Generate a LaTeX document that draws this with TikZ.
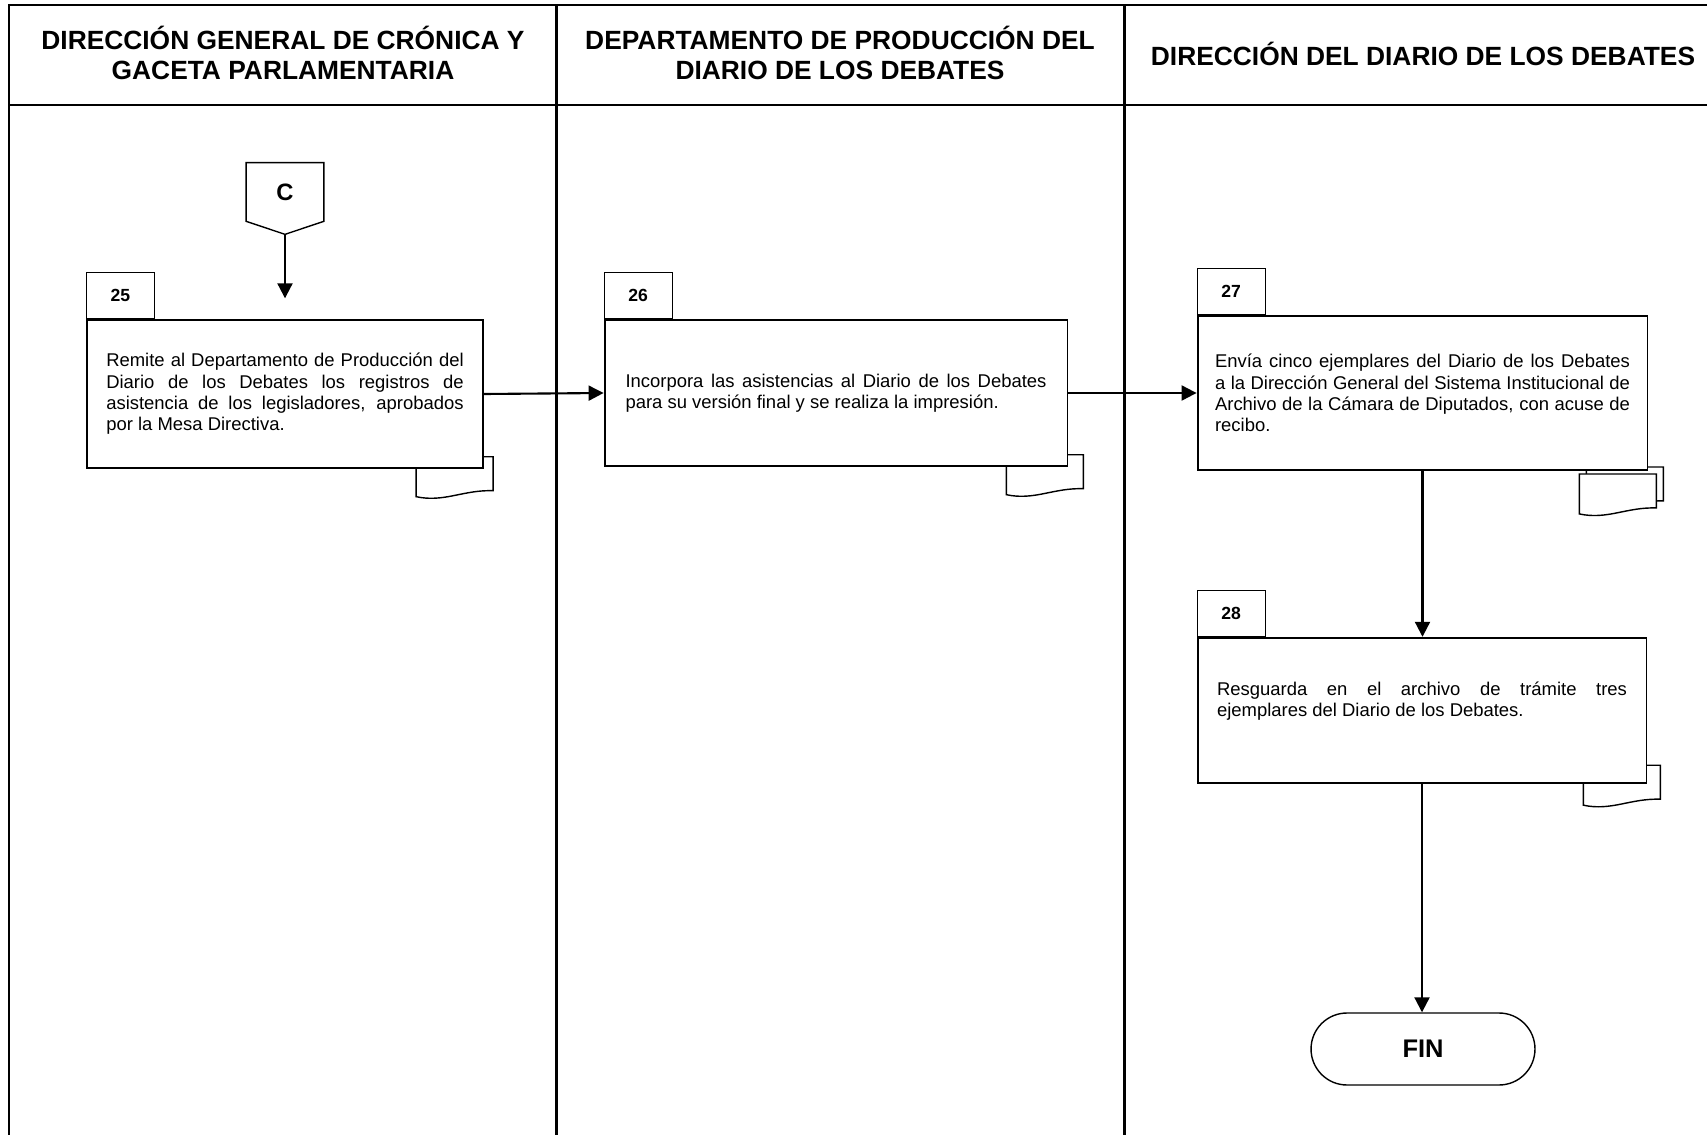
\documentclass[tikz,border=0pt]{standalone}
\usepackage{fontspec}
\setmainfont{Liberation Sans}
\usetikzlibrary{arrows.meta,calc,backgrounds}

\newcommand{\stepfont}{\fontsize{10.5}{12.1}\selectfont\hyphenpenalty=10000\relax\exhyphenpenalty=10000\relax}
\newcommand{\docsym}[1]{%
  \draw[docline] (#1) -- ++(77,0) -- ++(0,34)
    .. controls +(-30,-1) and +(28,6) .. ++(-77,6) -- cycle;}

\begin{document}
\begin{tikzpicture}[
    x=0.02cm, y=-0.02cm,
    lane/.style={line width=1.7pt},
    lanehead/.style={
      align=center,
      font=\bfseries\fontsize{15}{17.4}\selectfont
    },
    stepbox/.style={
      rectangle,
      draw=black,
      line width=1.1pt,
      fill=white,
      align=justify,
      font=\stepfont
    },
    numtab/.style={
      rectangle,
      draw=black,
      line width=0.6pt,
      fill=white,
      minimum width=1.36cm,
      minimum height=0.92cm,
      font=\bfseries\fontsize{10}{12}\selectfont
    },
    docline/.style={draw=black, line width=0.8pt, fill=white},
    arr/.style={line width=1.2pt, -{Triangle[width=0.3cm,length=0.3cm]}},
    term/.style={
      rectangle,
      rounded corners=0.72cm,
      draw=black,
      line width=0.8pt,
      minimum width=4.48cm,
      minimum height=1.44cm,
      font=\bfseries\fontsize{14.5}{17}\selectfont
    }
  ]

    % swimlanes
    \useasboundingbox (0,0) rectangle (1707,1135);
    \draw[lane] (9,1135) -- (9,5) -- (1707,5);
    \draw[lane] (9,105) -- (1707,105);
    \draw[lane] (556,5) -- (556,1135);
    \draw[lane] (1124,5) -- (1124,1135);

    \node [lanehead] (DirGral) at (283,53) {DIRECCIÓN GENERAL DE CRÓNICA Y\\GACETA PARLAMENTARIA};
    \node [lanehead] (DeptProd) at (840,53) {DEPARTAMENTO DE PRODUCCIÓN DEL\\DIARIO DE LOS DEBATES};
    \node [lanehead] (DirDiario) at (1423,54) {DIRECCIÓN DEL DIARIO DE LOS DEBATES};

    % connector C
    \node [inner sep=0pt, minimum width=1.54cm, minimum height=1.16cm,
      font=\bfseries\fontsize{13.5}{16}\selectfont] (Conn) at (285,192) {C};
    \draw[line width=0.8pt] (Conn.north west) -- (Conn.north east) -- (Conn.south east)
      -- ($(Conn.south)+(0,13)$) coordinate (ConnTip) -- (Conn.south west) -- cycle;

    % steps
    \node [stepbox, text width=7.15cm, inner xsep=0.39cm, minimum height=2.95cm] (Remite) at (285,394)
      {Remite al Departamento de Producción del Diario de los Debates los registros de asistencia de los legisladores, aprobados por la Mesa Directiva.};
    \node [stepbox, text width=8.42cm, inner xsep=0.42cm, minimum height=2.91cm] (Incorpora) at (836,393)
      {Incorpora las asistencias al Diario de los Debates para su versión final y se realiza la impresión.};
    \node [stepbox, text width=8.3cm, inner xsep=0.35cm, minimum height=3.08cm] (Envia) at (1422.5,393)
      {Envía cinco ejemplares del Diario de los Debates a la Dirección General del Sistema Institucional de Archivo de la Cámara de Diputados, con acuse de recibo.};
    \node [stepbox, text width=8.2cm, inner xsep=0.39cm, minimum height=2.91cm] (Resguarda) at (1422,710.5)
      {Resguarda en el archivo de trámite tres\linebreak ejemplares del Diario de los Debates.\par\nointerlineskip\rule{0pt}{0.38cm}};
    \node [term] (Fin) at (1423,1049) {FIN};

    \node [numtab, anchor=south west] (N25) at (Remite.north west) {25};
    \node [numtab, anchor=south west] (N26) at (Incorpora.north west) {26};
    \node [numtab, anchor=south west] (N27) at (Envia.north west) {27};
    \node [numtab, anchor=south west] (N28) at (Resguarda.north west) {28};

    % documents behind the steps
    \begin{scope}[on background layer]
      \fill[white] (0,0) rectangle (1707,1135);
      \docsym{$(Remite.south east)+(-68,-12)$}
      \docsym{$(Incorpora.south east)+(-62,-12)$}
      \docsym{$(Envia.south east)+(-62,-4)$}
      \docsym{$(Envia.south east)+(-69,3)$}
      \docsym{$(Resguarda.south east)+(-64,-19)$}
    \end{scope}

    % flow
    \draw[arr, shorten >=0.42cm] (ConnTip) -- (Remite.north);
    \draw[arr] (Remite.east) -- (Incorpora.west);
    \draw[arr] (Incorpora.east) -- (Envia.west);
    \draw[arr] (Envia.south) -- (Envia.south |- Resguarda.north);
    \draw[arr] (Resguarda.south) -- (Resguarda.south |- Fin.north);

\end{tikzpicture}
\end{document}
